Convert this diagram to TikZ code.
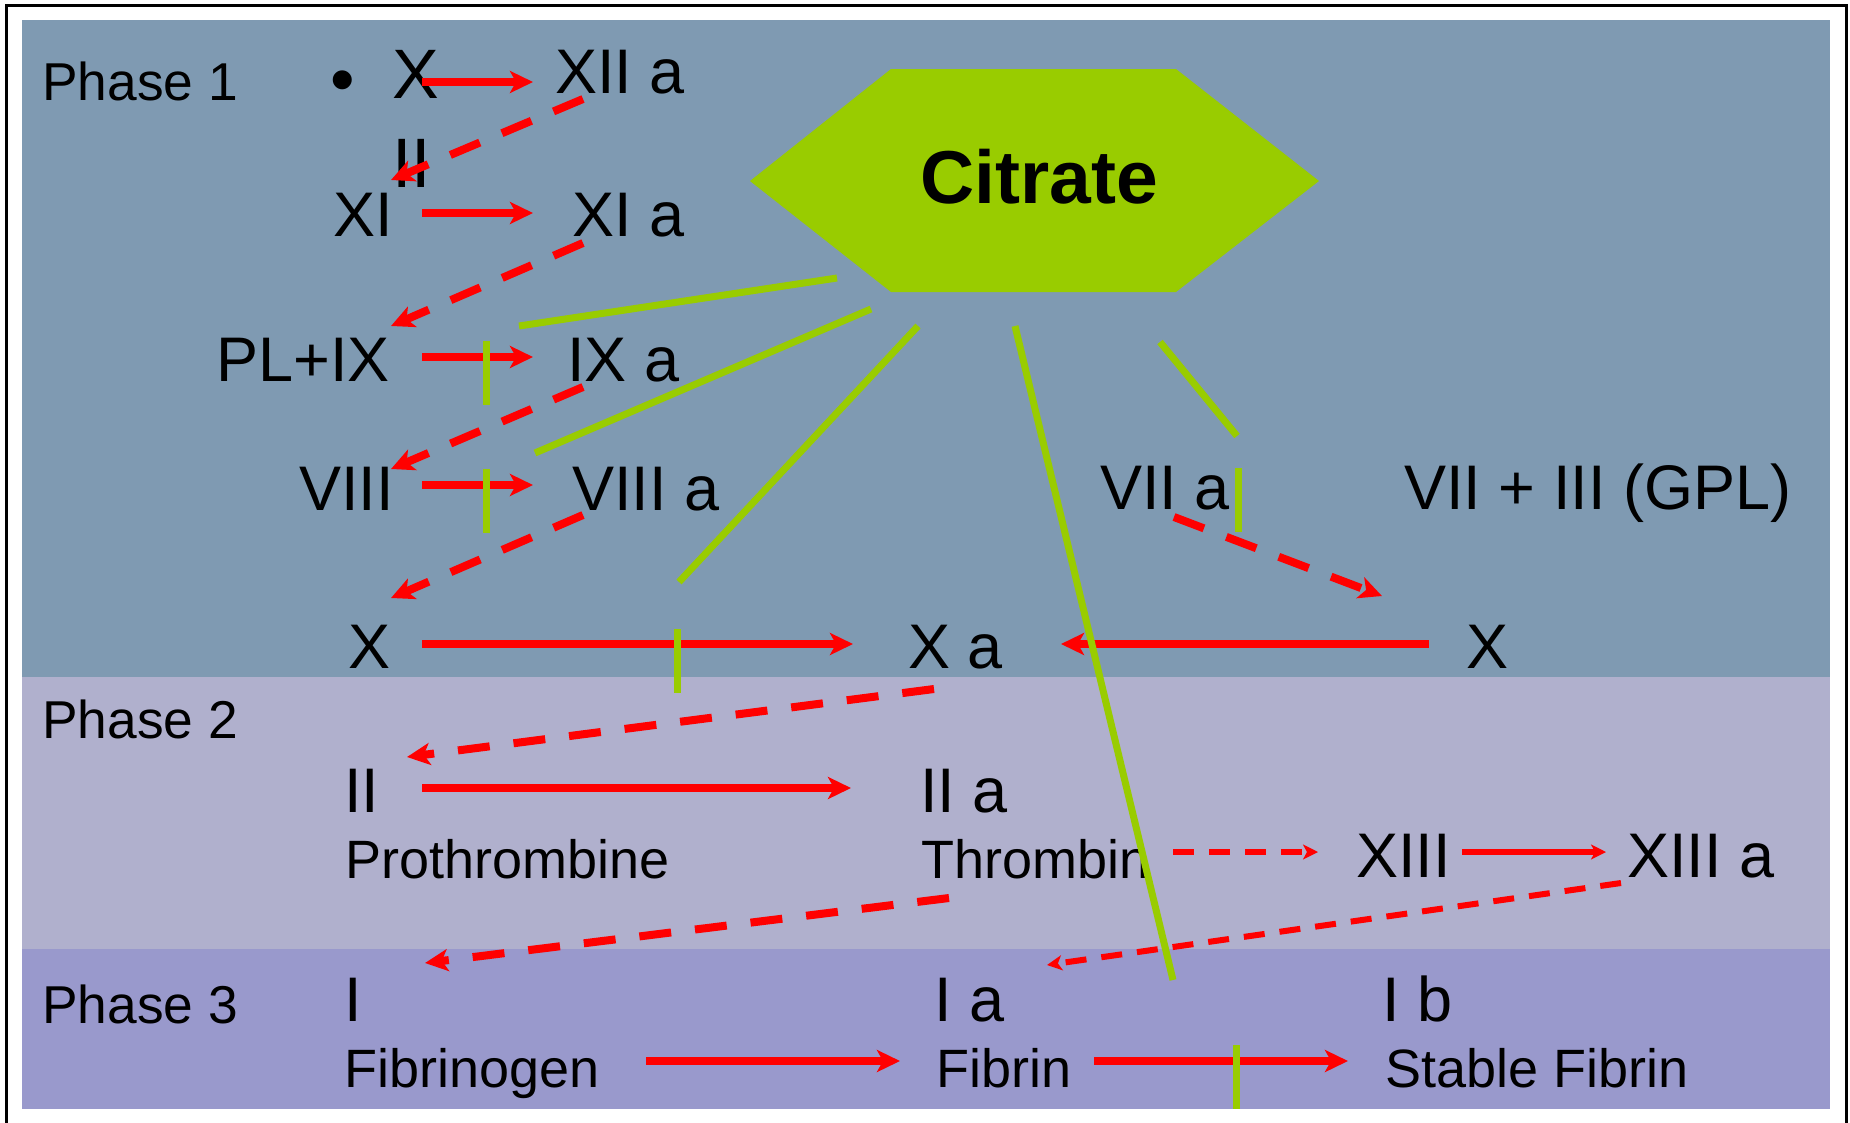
\documentclass[tikz,border=0pt]{standalone}
\usepackage{fontspec}
\setmainfont{Liberation Sans}
\usetikzlibrary{arrows.meta}
\definecolor{phaseone}{RGB}{127,154,178}
\definecolor{phasetwo}{RGB}{176,176,205}
\definecolor{phasethree}{RGB}{153,153,204}
\definecolor{citgreen}{RGB}{153,204,0}
\definecolor{arrred}{RGB}{255,0,0}

\begin{document}
\begin{tikzpicture}[x=1pt,y=-1pt,
          lbl/.style={anchor=base west,inner sep=0pt,
                      font=\fontsize{63}{76}\selectfont},
          sub/.style={lbl,font=\fontsize{54}{65}\selectfont},
          phs/.style={lbl,font=\fontsize{53.3}{64}\selectfont},
          arr/.style={draw=arrred,line width=8pt,
                      -{Stealth[length=23pt,width=22pt,inset=6pt]}},
          darr/.style={arr,dash pattern=on 32pt off 24pt},
          tarr/.style={draw=arrred,line width=6pt,
                       -{Stealth[length=15pt,width=15pt,inset=4pt]}},
          tdarr/.style={tarr,dash pattern=on 21pt off 15pt},
          inh/.style={draw=citgreen,line width=7pt}]
        \useasboundingbox (0,0) rectangle (1850,1122);
        % phase bands
        \fill[phaseone]   (22,20)  rectangle (1830,677);
        \fill[phasetwo]   (22,677) rectangle (1830,949);
        \fill[phasethree] (22,949) rectangle (1830,1109);
        \draw[line width=3pt] (6,5.5) rectangle (1846,1140);
        % citrate
        \fill[citgreen] (750,181) -- (891,69) -- (1176,69) -- (1319,181)
          -- (1176,292) -- (891,292) -- cycle;
        \node[lbl,font=\fontsize{75}{90}\selectfont\bfseries] (cit) at (920,203) {Citrate};
        \node[phs] (ph1) at (42,100)  {Phase 1};
        \node[phs] (ph2) at (42,738)  {Phase 2};
        \node[phs] (ph3) at (42,1023) {Phase 3};
        % phase 1
        \node[lbl,font=\fontsize{70}{89}\selectfont] (bul) at (330,103) {•};
        \node[lbl,anchor=north west,align=left,
              font=\fontsize{70}{89}\selectfont] (fxii) at (392,50) {X\\II};
        \node[lbl] (x12a)  at (555,93)   {XII a};
        \node[lbl] (xi)    at (333,236)  {XI};
        \node[lbl] (xia)   at (572,236)  {XI a};
        \node[lbl] (plix)  at (216,381)  {PL+IX};
        \node[lbl] (ixa)   at (567,381)  {IX a};
        \node[lbl] (viii)  at (299,510)  {VIII};
        \node[lbl] (viiia) at (572,510)  {VIII a};
        \node[lbl] (viia)  at (1100,509) {VII a};
        \node[lbl] (gpl)   at (1404,509) {VII + III (GPL)};
        \node[lbl] (xx)    at (348,668)  {X};
        \node[lbl] (xa)    at (908,668)  {X a};
        \node[lbl] (xr)    at (1466,668) {X};
        % phase 2
        \node[lbl] (ii)    at (344,812)  {II};
        \node[lbl] (iia)   at (920,812)  {II a};
        \node[sub] (pro)   at (345,878)  {Prothrombine};
        \node[sub] (thr)   at (921,878)  {Thrombin};
        \node[lbl] (xiii)  at (1356,877) {XIII};
        \node[lbl] (xiiia) at (1627,877) {XIII a};
        % phase 3
        \node[lbl] (fi)    at (344,1021)  {I};
        \node[lbl] (ia)    at (934,1021)  {I a};
        \node[lbl] (ib)    at (1382,1021) {I b};
        \node[sub] (fbg)   at (344,1087)  {Fibrinogen};
        \node[sub] (fib)   at (936,1087)  {Fibrin};
        \node[sub] (stf)   at (1385,1087) {Stable Fibrin};
        % activations
        \draw[arr] ([shift={(30,32)}]fxii.north west) -- ([shift={(-22,-11)}]x12a.base west);
        \draw[arr] ([shift={(89,-23)}]xi.base west) -- ([shift={(-39,-23)}]xia.base west);
        \draw[arr] ([shift={(206,-24)}]plix.base west) -- ([shift={(-34,-24)}]ixa.base west);
        \draw[arr] ([shift={(123,-25)}]viii.base west) -- ([shift={(-39,-25)}]viiia.base west);
        \draw[arr] ([shift={(74,-24)}]xx.base west) -- ([shift={(-55,-24)}]xa.base west);
        \draw[arr] ([shift={(-37,-24)}]xr.base west) -- ([shift={(153,-24)}]xa.base west);
        \draw[arr] ([shift={(78,-24)}]ii.base west) -- ([shift={(-69,-24)}]iia.base west);
        \draw[arr] ([shift={(302,-26)}]fbg.base west) -- ([shift={(-36,-26)}]fib.base west);
        \draw[arr] ([shift={(158,-26)}]fib.base west) -- ([shift={(-37,-26)}]stf.base west);
        \draw[tdarr] ([shift={(252,-26)}]thr.base west) -- ([shift={(-38,-25)}]xiii.base west);
        \draw[tarr] ([shift={(106,-25)}]xiii.base west) -- ([shift={(-21,-25)}]xiiia.base west);
        \draw[tdarr] ([shift={(-6,6)}]xiiia.base west) -- ([shift={(113,-56)}]ia.base west);
        % cascade
        \draw[darr] ([shift={(28,6)}]x12a.base west) -- ([shift={(58,-56)}]xi.base west);
        \draw[darr] ([shift={(11,7)}]xia.base west) -- ([shift={(175,-55)}]plix.base west);
        \draw[darr] ([shift={(16,6)}]ixa.base west) -- ([shift={(92,-41)}]viii.base west);
        \draw[darr] ([shift={(11,5)}]viiia.base west) -- ([shift={(43,-70)}]xx.base west);
        \draw[darr] ([shift={(26,21)}]xa.base west) -- ([shift={(63,-55)}]ii.base west);
        \draw[darr] ([shift={(28,20)}]thr.base west) -- ([shift={(81,-58)}]fi.base west);
        \draw[darr] ([shift={(74,8)}]viia.base west) -- ([shift={(-84,-72)}]xr.base west);
        % citrate blocks
        \coordinate (b1) at (486,373);
        \coordinate (b2) at (486,501);
        \coordinate (b3) at (677,661);
        \coordinate (b4) at (1238,500);
        \coordinate (b5) at (1236,1077);
        \foreach \b in {b1,b2,b3,b4,b5}
          \draw[inh] ([shift={(0,-32)}]\b) -- ([shift={(0,32)}]\b);
        \draw[inh] ([shift={(-83,75)}]cit.base west) -- ([shift={(33,-47)}]b1);
        \draw[inh] ([shift={(-49,106)}]cit.base west) -- ([shift={(49,-48)}]b2);
        \draw[inh] ([shift={(-2,123)}]cit.base west) -- ([shift={(2,-79)}]b3);
        \draw[inh] ([shift={(95,123)}]cit.base west) -- ([shift={(-63,-97)}]b5);
        \draw[inh] ([shift={(240,139)}]cit.base west) -- ([shift={(-1,-64)}]b4);
      \end{tikzpicture}
\end{document}
